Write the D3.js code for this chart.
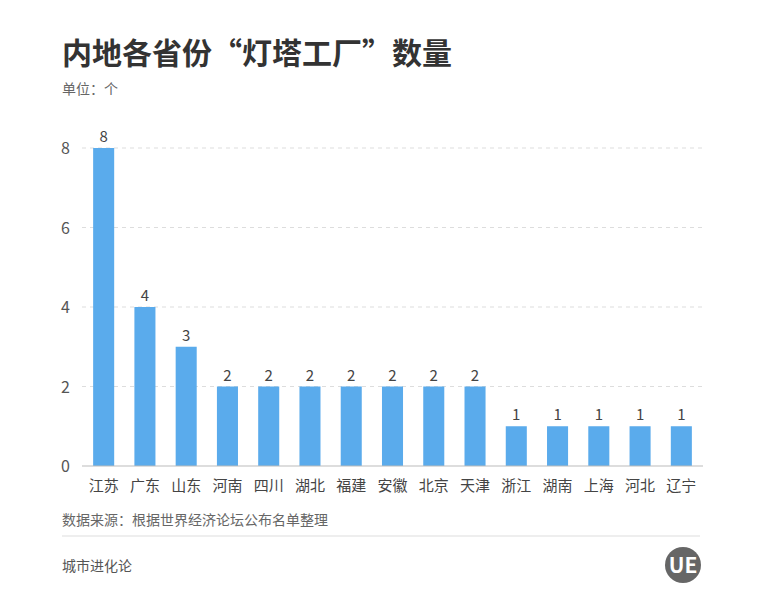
<!DOCTYPE html>
<html><head><meta charset="utf-8">
<script src="https://cdn.jsdelivr.net/npm/d3@7"></script>
<style>body{margin:0;background:#fff}text{font-family:"Noto Sans CJK SC","Noto Sans",sans-serif}</style>
</head><body><svg id="c" width="768" height="611"></svg>
<script>
const categories=["江苏","广东","山东","河南","四川","湖北","福建","安徽","北京","天津","浙江","湖南","上海","河北","辽宁"];
const values=[8,4,3,2,2,2,2,2,2,2,1,1,1,1,1];
const yTicks=[0,2,4,6,8];
const svg=d3.select("#c");
const x=d3.scaleBand().domain(categories).range([82,703]).paddingInner(0.49).paddingOuter(0.27);
const y=d3.scaleLinear().domain([0,8]).range([466,148]);
svg.append("text").attr("x",62).attr("y",64).attr("font-size",30).attr("font-weight",700).attr("fill","#333").text("内地各省份“灯塔工厂”数量");
svg.append("text").attr("x",62).attr("y",94).attr("font-size",14).attr("fill","#666").text("单位：个");
const g=svg.append("g");
yTicks.forEach(t=>{
 if(t>0) g.append("line").attr("x1",82).attr("x2",703).attr("y1",y(t)).attr("y2",y(t)).attr("stroke","#ddd").attr("stroke-dasharray","4,4");
 g.append("text").attr("x",70).attr("y",y(t)+6).attr("text-anchor","end").attr("font-size",16).attr("fill","#555").text(t);
});
g.selectAll("rect").data(values).join("rect").attr("x",(d,i)=>x(categories[i])).attr("width",x.bandwidth())
 .attr("y",d=>y(d)).attr("height",d=>y(0)-y(d)).attr("fill","#5aabec");
g.selectAll(".v").data(values).join("text").attr("x",(d,i)=>x(categories[i])+x.bandwidth()/2).attr("y",d=>y(d)-6)
 .attr("text-anchor","middle").attr("font-size",15).attr("fill","#444").text(d=>d);
g.append("line").attr("x1",82).attr("x2",703).attr("y1",y(0)).attr("y2",y(0)).attr("stroke","#bbb");
g.selectAll(".c").data(categories).join("text").attr("x",d=>x(d)+x.bandwidth()/2).attr("y",491)
 .attr("text-anchor","middle").attr("font-size",15).attr("fill","#444").text(d=>d);
svg.append("text").attr("x",62).attr("y",525).attr("font-size",14).attr("fill","#666").text("数据来源：根据世界经济论坛公布名单整理");
svg.append("line").attr("x1",62).attr("x2",700).attr("y1",536).attr("y2",536).attr("stroke","#ddd");
svg.append("text").attr("x",62).attr("y",571).attr("font-size",14).attr("fill","#555").text("城市进化论");
svg.append("circle").attr("cx",683).attr("cy",565).attr("r",18).attr("fill","#666");
svg.append("text").attr("x",683).attr("y",573).attr("text-anchor","middle").attr("font-size",21).attr("font-weight",700).attr("fill","#fff").text("UE");
</script></body></html>
